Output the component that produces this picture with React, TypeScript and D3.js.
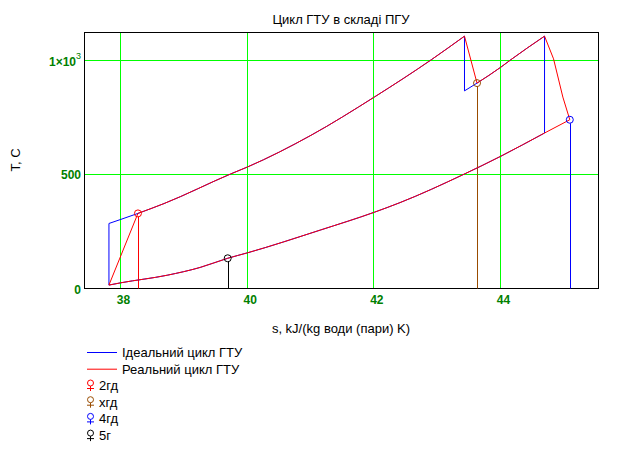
import React from 'react';
import * as d3 from 'd3';

// ---- data (s in kJ/(kg K), T in °C) ----
const xTicks = [38, 40, 42, 44];
const yTicks = [0, 500, 1000];
const gridY = [500, 1000];

// start point 1
const p1S = 37.81;
const p1T = 15;
// ideal compression end + beginning of ideal heat addition
const idealHeatS = [37.81, 38.0, 38.268];
const idealHeatT = [284, 302, 328];
// high-pressure isobar (heat addition) from 2гд to peak 1
const upperS = [38.268, 38.68, 39.73, 40.0, 41.0, 42.0, 42.905, 43.424];
const upperT = [328, 371, 500, 531, 669, 836, 1000, 1102];
// ideal HP expansion end
const idealHpS = [43.424, 43.424, 43.622];
const idealHpT = [1102, 863, 897];
// reheat isobar from хгд to peak 2
const reheatS = [43.622, 44.0, 44.16, 44.688];
const reheatT = [897, 967, 1000, 1102];
// real LP expansion to 4гд
const lpRealS = [44.688, 44.83, 44.977, 45.087];
const lpRealT = [1102, 1003, 836, 737];
// ideal LP expansion end
const idealLpS = [44.688, 44.688];
const idealLpT = [1102, 679];
// low-pressure isobar (heat rejection)
const lowerS = [37.81, 38.0, 38.73, 39.25, 39.685, 40.0, 41.145, 42.0, 42.405, 43.4, 44.0, 44.688, 45.087];
const lowerT = [15, 25, 58, 92, 132, 156, 255, 333, 375, 497, 578, 679, 737];

// marked states
const markNames = ['2гд', 'хгд', '4гд', '5г'];
const markS = [38.268, 43.622, 45.087, 39.685];
const markT = [328, 897, 737, 132];
const markColors = ['#ff0000', '#994c00', '#0000ff', '#000000'];

const seriesNames = ['Ідеальний цикл ГТУ', 'Реальний цикл ГТУ'];
const seriesColors = ['#0000ff', '#ff0000'];

const W = 618;
const H = 450;
const FONT = "'Liberation Sans', Arial, sans-serif";
const TICK_COLOR = '#008000';
const GRID = '#00ff00';

const zip = (s: number[], t: number[]): [number, number][] => s.map((v, i) => [v, t[i]]);

export default function App() {
  const x = d3.scaleLinear().domain([37.424, 45.54]).range([84.5, 598.5]);
  const y = d3.scaleLinear().domain([0, 1118]).range([288.5, 32.5]);
  const [x0, x1] = x.range();
  const [yb, yt] = y.range();

  const curve = d3
    .line<[number, number]>()
    .x((d) => x(d[0]))
    .y((d) => y(d[1]))
    .curve(d3.curveMonotoneX);
  const straight = d3
    .line<[number, number]>()
    .x((d) => x(d[0]))
    .y((d) => y(d[1]));

  const upper = zip(upperS, upperT);
  const lower = zip(lowerS, lowerT);
  const reheat = zip(reheatS, reheatT);
  const idealLower = lower.filter((d) => d[0] <= idealLpS[0] + 1e-9);

  const bluePaths = [
    straight([[p1S, p1T], [idealHeatS[0], idealHeatT[0]]]),
    curve(zip(idealHeatS, idealHeatT).concat(upper.slice(1))),
    straight(zip(idealHpS.slice(0, 2), idealHpT.slice(0, 2))),
    curve(zip(idealHpS.slice(1), idealHpT.slice(1)).concat(reheat.slice(1))),
    straight(zip(idealLpS, idealLpT)),
    curve(idealLower),
  ];
  const redPaths = [
    straight([[p1S, p1T], [markS[0], markT[0]]]),
    curve(upper),
    straight([[upperS[upperS.length - 1], upperT[upperT.length - 1]], [markS[1], markT[1]]]),
    curve(reheat),
    straight(zip(lpRealS, lpRealT)),
    curve(lower),
  ];

  const r = 3.5;

  return (
    <svg
      width={W}
      height={H}
      style={{ position: 'absolute', left: 0, top: 0, background: '#fff' }}
      fontFamily={FONT}
    >
      <rect x={0} y={0} width={W} height={H} fill="#fff" />
      {/* title */}
      <text x={341} y={24} fontSize={13} textAnchor="middle" fill="#000">
        Цикл ГТУ в складі ПГУ
      </text>

      {/* grid */}
      {xTicks.map((t) => (
        <line key={'gx' + t} x1={Math.round(x(t)) - 0.5} x2={Math.round(x(t)) - 0.5} y1={yt} y2={yb} stroke={GRID} strokeWidth={1} />
      ))}
      {gridY.map((t) => (
        <line key={'gy' + t} x1={x0} x2={x1} y1={Math.round(y(t)) + 0.5} y2={Math.round(y(t)) + 0.5} stroke={GRID} strokeWidth={1} />
      ))}

      {/* frame */}
      <rect x={x0} y={yt} width={x1 - x0} height={yb - yt} fill="none" stroke="#000" strokeWidth={1} />

      {/* tick labels */}
      {xTicks.map((t) => (
        <text key={'tx' + t} x={x(t) + 2.5} y={304} fontSize={12} fontWeight="bold" fill={TICK_COLOR} textAnchor="middle">
          {t}
        </text>
      ))}
      {yTicks.map((t) =>
        t === 1000 ? (
          <text key={'ty' + t} x={81} y={y(t) + 6} fontSize={12} fontWeight="bold" fill={TICK_COLOR} textAnchor="end">
            <tspan>1×10</tspan>
            <tspan dy={-7} fontSize={9} fontWeight="normal">3</tspan>
          </text>
        ) : (
          <text key={'ty' + t} x={81} y={y(t) + 5} fontSize={12} fontWeight="bold" fill={TICK_COLOR} textAnchor="end">
            {t}
          </text>
        )
      )}

      {/* axis titles */}
      <text x={341} y={333} fontSize={13} textAnchor="middle" fill="#000">
        s, kJ/(kg води (пари) K)
      </text>
      <text transform="translate(20,160) rotate(-90)" fontSize={13} textAnchor="middle" fill="#000">
        T, C
      </text>

      {/* stems of marked points */}
      {markS.map((s, i) => (
        <line
          key={'stem' + i}
          x1={Math.round(x(s)) + 0.5}
          x2={Math.round(x(s)) + 0.5}
          y1={y(markT[i]) + r}
          y2={yb}
          stroke={markColors[i]}
          strokeWidth={1}
        />
      ))}

      {/* ideal cycle */}
      {bluePaths.map((d, i) => (
        <path key={'b' + i} d={d || ''} fill="none" stroke={seriesColors[0]} strokeWidth={1} />
      ))}
      {/* real cycle */}
      {redPaths.map((d, i) => (
        <path key={'r' + i} d={d || ''} fill="none" stroke={seriesColors[1]} strokeWidth={1} />
      ))}

      {/* markers */}
      {markS.map((s, i) => (
        <circle key={'m' + i} cx={x(s)} cy={y(markT[i])} r={r} fill="none" stroke={markColors[i]} strokeWidth={1} />
      ))}

      {/* legend */}
      {seriesNames.map((n, i) => (
        <g key={'ls' + i}>
          <line x1={87} x2={117} y1={352.5 + i * 16.7} y2={352.5 + i * 16.7} stroke={seriesColors[i]} strokeWidth={1} />
          <text x={122} y={357 + i * 16.7} fontSize={13} fill="#000">
            {n}
          </text>
        </g>
      ))}
      {markNames.map((n, i) => {
        const by = 390 + i * 16.7;
        return (
          <g key={'lm' + i}>
            <circle cx={90.5} cy={by - 7} r={3} fill="none" stroke={markColors[i]} strokeWidth={1} />
            <line x1={90.5} x2={90.5} y1={by - 4} y2={by + 1} stroke={markColors[i]} strokeWidth={1} />
            <line x1={87} x2={94} y1={by - 1.5} y2={by - 1.5} stroke={markColors[i]} strokeWidth={1} />
            <text x={99} y={by} fontSize={13} fill="#000">
              {n}
            </text>
          </g>
        );
      })}
    </svg>
  );
}
